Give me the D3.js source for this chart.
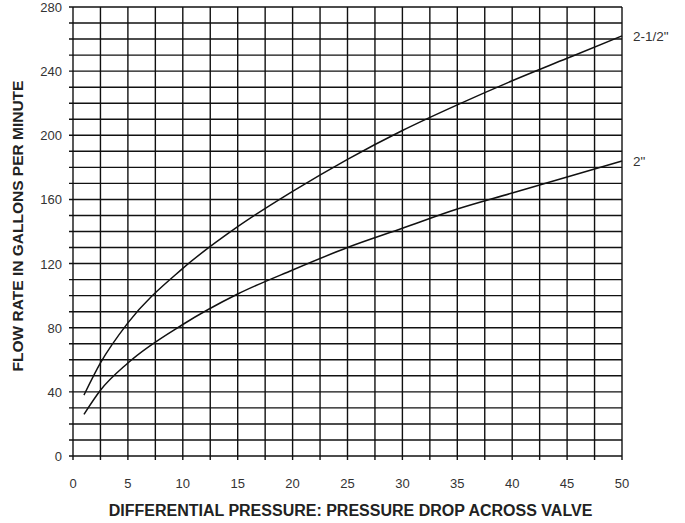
<!doctype html>
<html>
<head>
<meta charset="utf-8">
<script src="https://d3js.org/d3.v7.min.js"></script>
<style>
  body { margin: 0; background: #fff; }
  text { font-family: "Liberation Sans", Arial, sans-serif; }
</style>
</head>
<body>
<svg></svg>
<script>
var w = 685, h = 523;
var margin = { left: 73, right: 63, top: 7, bottom: 67 };

var pressure = [1, 2.5, 5, 10, 15, 20, 25, 30, 35, 40, 45, 50];
var flow2half = [38, 58, 83, 117, 143, 165, 185, 203, 219, 234, 248, 262];
var flow2 = [26, 41, 58, 82, 101, 116, 130, 142, 154, 164, 174, 184];
var xTicks = [0, 5, 10, 15, 20, 25, 30, 35, 40, 45, 50];
var yTicks = [0, 40, 80, 120, 160, 200, 240, 280];

var svg = d3.select('svg').attr('width', w).attr('height', h);

var x = d3.scaleLinear().domain([0, 50]).range([margin.left, w - margin.right]);
var y = d3.scaleLinear().domain([0, 280]).range([h - margin.bottom, margin.top]);

var grid = svg.append('g').attr('stroke', '#111').attr('stroke-width', 1.4);
grid.selectAll('line.v')
    .data(d3.range(0, 50.01, 2.5))
    .enter().append('line')
    .attr('x1', function(d) { return x(d); })
    .attr('x2', function(d) { return x(d); })
    .attr('y1', y(0) + 4)
    .attr('y2', y(280));
grid.selectAll('line.h')
    .data(d3.range(0, 280.01, 10))
    .enter().append('line')
    .attr('x1', x(0) - 4)
    .attr('x2', x(50))
    .attr('y1', function(d) { return y(d); })
    .attr('y2', function(d) { return y(d); });

svg.selectAll('text.xt')
    .data(xTicks)
    .enter().append('text')
    .attr('x', function(d) { return x(d); })
    .attr('y', 488)
    .attr('text-anchor', 'middle')
    .attr('font-size', 13)
    .attr('fill', '#333')
    .text(function(d) { return d; });

svg.selectAll('text.yt')
    .data(yTicks)
    .enter().append('text')
    .attr('x', x(0) - 11)
    .attr('y', function(d) { return y(d) + 5; })
    .attr('text-anchor', 'end')
    .attr('font-size', 13)
    .attr('fill', '#333')
    .text(function(d) { return d; });

var line = d3.line()
    .x(function(d, i) { return x(pressure[i]); })
    .y(function(d) { return y(d); })
    .curve(d3.curveMonotoneX);

[flow2half, flow2].forEach(function(s) {
    svg.append('path')
        .attr('d', line(s))
        .attr('fill', 'none')
        .attr('stroke', '#111')
        .attr('stroke-width', 1.5);
});

svg.append('text').attr('x', 633).attr('y', y(262) + 5)
    .attr('font-size', 13.5).attr('fill', '#333').text('2-1/2"');
svg.append('text').attr('x', 633).attr('y', y(184) + 5)
    .attr('font-size', 13.5).attr('fill', '#333').text('2"');

svg.append('text')
    .attr('x', 350.5)
    .attr('y', 516)
    .attr('text-anchor', 'middle')
    .attr('font-size', 16)
    .attr('font-weight', 'bold')
    .attr('fill', '#222')
    .text('DIFFERENTIAL PRESSURE: PRESSURE DROP ACROSS VALVE');

svg.append('text')
    .attr('transform', 'translate(23,226) rotate(-90)')
    .attr('text-anchor', 'middle')
    .attr('font-size', 15.5)
    .attr('font-weight', 'bold')
    .attr('fill', '#222')
    .text('FLOW RATE IN GALLONS PER MINUTE');
</script>
</body>
</html>
